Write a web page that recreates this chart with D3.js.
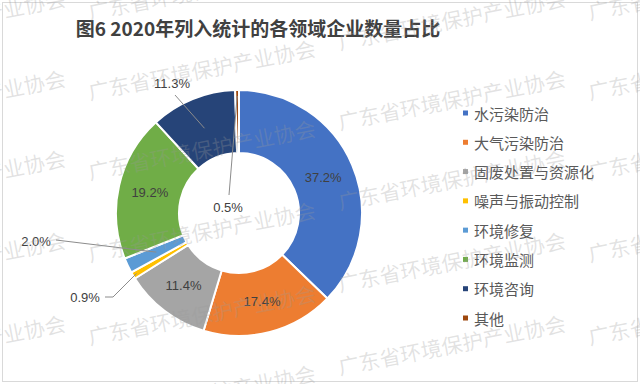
<!DOCTYPE html>
<html>
<head>
<meta charset="utf-8">
<script src="https://cdn.jsdelivr.net/npm/d3@7"></script>
<style>
  body { margin: 0; background: #fff; }
  svg text { font-family: "Noto Sans CJK SC", "Liberation Sans", sans-serif; }
</style>
</head>
<body>
<div id="chart"></div>
<script>
const categories = ['水污染防治', '大气污染防治', '固废处置与资源化', '噪声与振动控制', '环境修复', '环境监测', '环境咨询', '其他'];
const shares = [37.2, 17.4, 11.4, 0.9, 2.0, 19.2, 11.3, 0.5];
const colors = ['#4472C4', '#ED7D31', '#A5A5A5', '#FFC000', '#5B9BD5', '#70AD47', '#264478', '#9E480E'];
const title = '图6 2020年列入统计的各领域企业数量占比';
const watermark = '广东省环境保护产业协会';

const W = 640, H = 384;
const cx = 239, cy = 213, outerR = 123, innerR = 60;

// labels that sit outside the ring: offset of the text from the centre, and how far the leader reaches in
const outside = {
    '环境咨询': { dx: -67, dy: -130, reach: 'mid', from: [3, 12] },
    '其他': { dx: -11, dy: -6, reach: 117, from: [1, -12] },
    '环境修复': { dx: -203, dy: 28, reach: 'mid', from: [20, -1] },
    '噪声与振动控制': { dx: -154, dy: 84, reach: 119, from: [20, 0], elbow: 8 }
};

const svg = d3.select('#chart').append('svg')
    .attr('width', W)
    .attr('height', H);

svg.append('rect')
    .attr('x', 2.5).attr('y', 2.5)
    .attr('width', W - 5).attr('height', H - 5)
    .attr('fill', '#fff')
    .attr('stroke', '#d9d9d9');

svg.append('text')
    .attr('x', 258).attr('y', 36)
    .attr('text-anchor', 'middle')
    .style('font-size', '19px')
    .style('font-weight', 'bold')
    .attr('fill', '#404040')
    .text(title);

const data = categories.map((c, i) => ({ name: c, value: shares[i], color: colors[i] }));

const pie = d3.pie().sort(null).value(d => d.value);
const arc = d3.arc().innerRadius(innerR).outerRadius(outerR);
const arcs = pie(data);

const g = svg.append('g').attr('transform', `translate(${cx},${cy})`);

g.selectAll('path')
    .data(arcs)
    .enter().append('path')
    .attr('d', arc)
    .attr('fill', d => d.data.color)
    .attr('stroke', '#fff')
    .attr('stroke-width', 2);

const pointAt = (d, r) => {
    const a = (d.startAngle + d.endAngle) / 2;
    return [r * Math.sin(a), -r * Math.cos(a)];
};

// labels
arcs.forEach(d => {
    const o = outside[d.data.name];
    let pos = arc.centroid(d);
    if (o) {
        pos = [o.dx, o.dy];
        const target = o.reach === 'mid' ? arc.centroid(d) : pointAt(d, o.reach);
        const start = [pos[0] + o.from[0], pos[1] + o.from[1]];
        const pts = [start];
        if (o.elbow) pts.push([start[0] + o.elbow, start[1]]);
        pts.push(target);
        g.append('polyline')
            .attr('points', pts.map(p => p.join(',')).join(' '))
            .attr('fill', 'none')
            .attr('stroke', '#8c8c8c')
            .attr('stroke-width', 1);
    }
    g.append('text')
        .attr('x', pos[0]).attr('y', pos[1])
        .attr('text-anchor', 'middle')
        .attr('dominant-baseline', 'central')
        .style('font-family', '"Liberation Sans", Arial, sans-serif')
        .style('font-size', '13px')
        .attr('fill', '#404040')
        .text(d3.format('.1f')(d.data.value) + '%');
});

// legend
const ly = d3.scalePoint().domain(categories).range([113, 318]);
const legend = svg.append('g');
legend.selectAll('rect')
    .data(data)
    .enter().append('rect')
    .attr('x', 463)
    .attr('y', d => ly(d.name) - 2.5)
    .attr('width', 5).attr('height', 5)
    .attr('fill', d => d.color);
legend.selectAll('text')
    .data(data)
    .enter().append('text')
    .attr('x', 474)
    .attr('y', d => ly(d.name))
    .attr('dominant-baseline', 'central')
    .style('font-size', '15px')
    .attr('fill', '#595959')
    .text(d => d.name);

// watermark
const wm = svg.append('g').attr('pointer-events', 'none');
const rowYs = [20, 100, 180, 262, 345, 425];
const colXs = [-160, 90, 340, 590];
rowYs.forEach((y, j) => {
    colXs.forEach((x, i) => {
        wm.append('text')
            .attr('transform', `translate(${x},${y + (i % 2 ? 0 : 30)}) rotate(-11)`)
            .style('font-size', '21px')
            .attr('fill', '#9a9a9a')
            .attr('fill-opacity', 0.28)
            .text(watermark);
    });
});
</script>
</body>
</html>
